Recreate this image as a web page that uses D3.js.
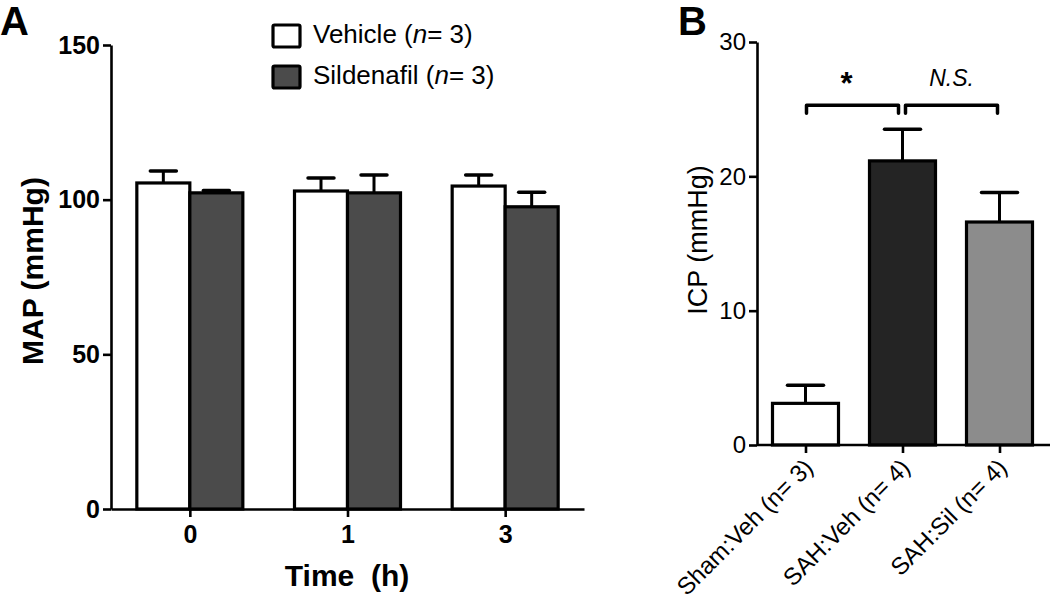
<!DOCTYPE html>
<html>
<head>
<meta charset="utf-8">
<script src="https://cdn.jsdelivr.net/npm/d3@7"></script>
<style>
  html, body { margin: 0; padding: 0; background: #fff; }
  svg { display: block; }
  text { font-family: "Liberation Sans", Arial, Helvetica, sans-serif; fill: #000; }
</style>
</head>
<body>
<svg id="chart" width="1050" height="601"></svg>
<script>
// ---------- Panel A data ----------
const timeLabels = ["0", "1", "3"];
const seriesNames = ["Vehicle (n= 3)", "Sildenafil (n= 3)"];
const vehicleMean = [105.4, 102.8, 104.4];
const vehicleSEM = [3.9, 4.2, 3.6];
const sildenafilMean = [102.2, 102.2, 97.7];
const sildenafilSEM = [0.8, 5.8, 4.7];
const mapTicks = [0, 50, 100, 150];

// ---------- Panel B data ----------
const icpGroups = ["Sham:Veh (n= 3)", "SAH:Veh (n= 4)", "SAH:Sil (n= 4)"];
const icpMean = [3.1, 21.15, 16.6];
const icpSEM = [1.35, 2.35, 2.2];
const icpTicks = [0, 10, 20, 30];
const brackets = [
  { from: 0, to: 1, label: "*", italic: false },
  { from: 1, to: 2, label: "N.S.", italic: true }
];
const bracketLevel = 25.3;
const bracketDrop = 0.6;

const svg = d3.select("#chart");

// Panel letters
svg.append("text").attr("x", 0).attr("y", 35).attr("font-size", 40).attr("font-weight", "bold").text("A");
svg.append("text").attr("x", 678).attr("y", 35).attr("font-size", 40).attr("font-weight", "bold").text("B");

// ================= Panel A =================
const gA = svg.append("g");
const yA = d3.scaleLinear().domain([0, 150]).range([509, 45]);
const xA = d3.scalePoint().domain(timeLabels).range([111, 584]).padding(0.5);
const sub = d3.scaleBand().domain(seriesNames).range([-53, 53]);
const fillsA = ["#ffffff", "#4b4b4b"];

const rowsA = timeLabels.map((t, i) => ({
  t,
  vals: [
    { s: seriesNames[0], m: vehicleMean[i], e: vehicleSEM[i], c: fillsA[0] },
    { s: seriesNames[1], m: sildenafilMean[i], e: sildenafilSEM[i], c: fillsA[1] }
  ]
}));

rowsA.forEach(r => {
  r.vals.forEach(v => {
    const cx = xA(r.t) + sub(v.s) + sub.bandwidth() / 2;
    gA.append("line").attr("x1", cx).attr("x2", cx)
      .attr("y1", yA(v.m)).attr("y2", yA(v.m + v.e))
      .attr("stroke", "#000").attr("stroke-width", 3);
    gA.append("line").attr("x1", cx - 13).attr("x2", cx + 13)
      .attr("y1", yA(v.m + v.e)).attr("y2", yA(v.m + v.e))
      .attr("stroke", "#000").attr("stroke-width", 3.5).attr("stroke-linecap", "round");
  });
});
rowsA.forEach(r => {
  r.vals.forEach(v => {
    gA.append("rect")
      .attr("x", xA(r.t) + sub(v.s))
      .attr("width", sub.bandwidth())
      .attr("y", yA(v.m))
      .attr("height", yA(0) - yA(v.m))
      .attr("fill", v.c).attr("stroke", "#000").attr("stroke-width", 3.2);
  });
});

const axisYA = gA.append("g").attr("transform", "translate(111,0)")
  .call(d3.axisLeft(yA).tickValues(mapTicks).tickSize(8).tickSizeOuter(0).tickPadding(3));
const axisXA = gA.append("g").attr("transform", "translate(0,509)")
  .call(d3.axisBottom(xA).tickSize(8).tickSizeOuter(0).tickPadding(7));
[axisYA, axisXA].forEach(a => {
  a.selectAll("path, line").attr("stroke", "#000").attr("stroke-width", 2.6);
  a.selectAll("text").attr("font-size", 25).attr("font-weight", "bold")
    .attr("font-family", '"Liberation Sans", Arial, sans-serif').attr("fill", "#000");
});
axisXA.selectAll("text").attr("dy", "0.75em");

gA.append("text").attr("transform", "translate(43,271) rotate(-90)")
  .attr("text-anchor", "middle").attr("font-size", 30).attr("font-weight", "bold").text("MAP (mmHg)");
gA.append("text").attr("x", 347).attr("y", 586)
  .attr("text-anchor", "middle").attr("font-size", 30).attr("font-weight", "bold")
  .attr("xml:space", "preserve").style("white-space", "pre").text("Time  (h)");

// legend
const legendRows = [
  { name: "Vehicle", n: "3", c: fillsA[0], y: 25 },
  { name: "Sildenafil", n: "3", c: fillsA[1], y: 66 }
];
legendRows.forEach(l => {
  gA.append("rect").attr("x", 273).attr("y", l.y).attr("width", 27).attr("height", 22)
    .attr("fill", l.c).attr("stroke", "#000").attr("stroke-width", 3.2).attr("rx", 1.5);
  const t = gA.append("text").attr("x", 313).attr("y", l.y + 18).attr("font-size", 26);
  t.append("tspan").text(l.name + " (");
  t.append("tspan").attr("font-style", "italic").text("n");
  t.append("tspan").text("= " + l.n + ")");
});

// ================= Panel B =================
const gB = svg.append("g");
const yB = d3.scaleLinear().domain([0, 30]).range([445, 42]);
const xB = d3.scalePoint().domain(icpGroups).range([757, 1048]).padding(0.5);
const fillsB = ["#ffffff", "#242424", "#8c8c8c"];
const barWB = 66;

icpGroups.forEach((g, i) => {
  const cx = xB(g);
  gB.append("line").attr("x1", cx).attr("x2", cx)
    .attr("y1", yB(icpMean[i])).attr("y2", yB(icpMean[i] + icpSEM[i]))
    .attr("stroke", "#000").attr("stroke-width", 3);
  gB.append("line").attr("x1", cx - 18).attr("x2", cx + 18)
    .attr("y1", yB(icpMean[i] + icpSEM[i])).attr("y2", yB(icpMean[i] + icpSEM[i]))
    .attr("stroke", "#000").attr("stroke-width", 3.5).attr("stroke-linecap", "round");
});
icpGroups.forEach((g, i) => {
  gB.append("rect").attr("x", xB(g) - barWB / 2).attr("width", barWB)
    .attr("y", yB(icpMean[i])).attr("height", yB(0) - yB(icpMean[i]))
    .attr("fill", fillsB[i]).attr("stroke", "#000").attr("stroke-width", 3.2);
});

const axisYB = gB.append("g").attr("transform", "translate(757,0)")
  .call(d3.axisLeft(yB).tickValues(icpTicks).tickSize(8).tickSizeOuter(0).tickPadding(3));
const axisXB = gB.append("g").attr("transform", "translate(0,445)")
  .call(d3.axisBottom(xB).tickSize(8).tickSizeOuter(0).tickFormat(""));
axisXB.select(".domain").attr("d", "M757,0H1050");
[axisYB, axisXB].forEach(a => {
  a.selectAll("path, line").attr("stroke", "#000").attr("stroke-width", 2.6);
});
axisYB.selectAll("text").attr("font-size", 24)
  .attr("font-family", '"Liberation Sans", Arial, sans-serif').attr("fill", "#000");

// rotated category labels
icpGroups.forEach(g => {
  gB.append("text")
    .attr("transform", `translate(${xB(g) + 9},${469}) rotate(-45)`)
    .attr("text-anchor", "end").attr("font-size", 24).text(g);
});

gB.append("text").attr("transform", "translate(707,240) rotate(-90)")
  .attr("text-anchor", "middle").attr("font-size", 27).text("ICP (mmHg)");

// significance brackets
brackets.forEach((b, k) => {
  const x1 = xB(icpGroups[b.from]) + (k === 0 ? 1 : 3);
  const x2 = xB(icpGroups[b.to]) - (k === 0 ? 4 : 2);
  const yTop = yB(bracketLevel), yEnd = yB(bracketLevel - bracketDrop);
  gB.append("path")
    .attr("d", d3.line()([[x1, yEnd], [x1, yTop], [x2, yTop], [x2, yEnd]]))
    .attr("fill", "none").attr("stroke", "#000").attr("stroke-width", 3.5)
    .attr("stroke-linejoin", "round").attr("stroke-linecap", "round");
  const t = gB.append("text").attr("x", (x1 + x2) / 2 - (b.italic ? 0 : 6))
    .attr("text-anchor", "middle");
  if (b.italic) {
    t.attr("y", 86).attr("font-size", 23).attr("font-style", "italic").text(b.label);
  } else {
    t.attr("y", 94).attr("font-size", 31).attr("font-weight", "bold").text(b.label);
  }
});
</script>
</body>
</html>
